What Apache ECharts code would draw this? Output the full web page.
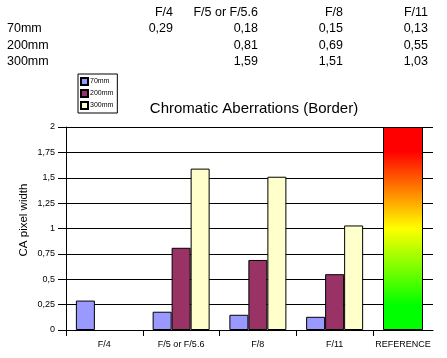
<!DOCTYPE html>
<html><head><meta charset="utf-8">
<script src="https://cdn.jsdelivr.net/npm/echarts@6/dist/echarts.min.js"></script>
<style>html,body{margin:0;padding:0;background:#fff}#c{width:447px;height:358px}</style>
</head><body><div id="c"></div>
<script>
var categories = ['F/4', 'F/5 or F/5.6', 'F/8', 'F/11'];
var refCategory = ['REFERENCE'];
var seriesNames = ['70mm', '200mm', '300mm'];
var s70 = [0.29, 0.18, 0.15, 0.13];
var s200 = [null, 0.81, 0.69, 0.55];
var s300 = [null, 1.59, 1.51, 1.03];
var refValue = [2];
var yTicks = [0, 0.25, 0.5, 0.75, 1, 1.25, 1.5, 1.75, 2];
var colors = ['#9999FF', '#993366', '#FFFFCC'];

var FONT = 'Liberation Sans, Arial, sans-serif';
function fmt(v) { return String(v).replace('.', ','); }

var chart = echarts.init(document.getElementById('c'), null, {renderer: 'canvas'});

// top table
var graphics = [];
var colRight = [173, 258, 343, 428];
var rowY = [13, 29, 45.5, 61.5];
var allSeries = [s70, s200, s300];
var TF = '12.5px ' + FONT;
categories.forEach(function (c, i) {
  graphics.push({type: 'text', x: colRight[i], y: rowY[0],
    style: {text: c, font: TF, fill: '#000', textAlign: 'right', textVerticalAlign: 'middle'}});
});
seriesNames.forEach(function (n, r) {
  graphics.push({type: 'text', x: 7, y: rowY[r + 1],
    style: {text: n, font: TF, fill: '#000', textAlign: 'left', textVerticalAlign: 'middle'}});
  allSeries[r].forEach(function (v, i) {
    if (v == null) return;
    graphics.push({type: 'text', x: colRight[i], y: rowY[r + 1],
      style: {text: fmt(v), font: TF, fill: '#000', textAlign: 'right', textVerticalAlign: 'middle'}});
  });
});
graphics.push({type: 'text', x: 24, y: 220, rotation: Math.PI / 2,
  style: {text: 'CA pixel width', font: '11.5px ' + FONT, fill: '#000', textAlign: 'center', textVerticalAlign: 'middle'}});

var barStyle = function (c) { return {color: c, borderColor: '#000', borderWidth: 1}; };

var option = {
  animation: false,
  backgroundColor: '#fff',
  title: {text: 'Chromatic Aberrations (Border)', left: 249, top: 96, textAlign: 'center',
    textStyle: {fontFamily: FONT, fontSize: 15, fontWeight: 'normal', color: '#000'}},
  legend: {data: seriesNames, orient: 'vertical', left: 78, top: 74, padding: [3, 4, 3, 2],
    icon: 'rect',
    itemWidth: 7, itemHeight: 7, itemGap: 3, borderColor: '#000', borderWidth: 1,
    textStyle: {fontFamily: FONT, fontSize: 7, color: '#000', padding: [0, 0, 0, -3]}},
  graphic: graphics,
  grid: [
    {left: 66, right: 74, top: 127, bottom: 28},
    {left: 373, right: 14, top: 127, bottom: 28}
  ],
  xAxis: [
    {type: 'category', gridIndex: 0, data: categories,
      axisLine: {lineStyle: {color: '#000', width: 1}},
      axisTick: {show: true, length: 6, lineStyle: {color: '#000'}, alignWithLabel: false},
      axisLabel: {fontFamily: FONT, fontSize: 9, color: '#000', margin: 10}},
    {type: 'category', gridIndex: 1, data: refCategory,
      axisLine: {lineStyle: {color: '#000', width: 1}},
      axisTick: {show: false},
      axisLabel: {fontFamily: FONT, fontSize: 9, color: '#000', margin: 10}}
  ],
  yAxis: [
    {type: 'value', gridIndex: 0, min: 0, max: 2, interval: 0.25,
      axisLine: {show: true, lineStyle: {color: '#000'}},
      axisTick: {show: true, length: 8, lineStyle: {color: '#000'}},
      splitLine: {show: true, lineStyle: {color: '#000', width: 1}},
      axisLabel: {fontFamily: FONT, fontSize: 9, color: '#000', margin: 11,
        formatter: function (v) { return fmt(v); }}},
    {type: 'value', gridIndex: 1, min: 0, max: 2, interval: 0.25,
      axisLine: {show: false}, axisTick: {show: false}, axisLabel: {show: false},
      splitLine: {show: true, lineStyle: {color: '#000', width: 1}}}
  ],
  series: [
    {name: seriesNames[0], type: 'bar', data: s70, barWidth: 19, barGap: '0%', itemStyle: barStyle(colors[0])},
    {name: seriesNames[1], type: 'bar', data: s200, barWidth: 19, barGap: '0%', itemStyle: barStyle(colors[1])},
    {name: seriesNames[2], type: 'bar', data: s300, barWidth: 19, barGap: '0%', itemStyle: barStyle(colors[2])},
    {name: 'REFERENCE', type: 'bar', xAxisIndex: 1, yAxisIndex: 1, data: refValue, barWidth: 40,
      itemStyle: {borderColor: '#000', borderWidth: 1,
        color: new echarts.graphic.LinearGradient(0, 0, 0, 1, [
          {offset: 0, color: '#FF0000'},
          {offset: 0.12, color: '#FF0000'},
          {offset: 0.5, color: '#FFFF00'},
          {offset: 0.88, color: '#00FF00'},
          {offset: 1, color: '#00FF00'}
        ])}}
  ]
};
chart.setOption(option);
</script></body></html>
